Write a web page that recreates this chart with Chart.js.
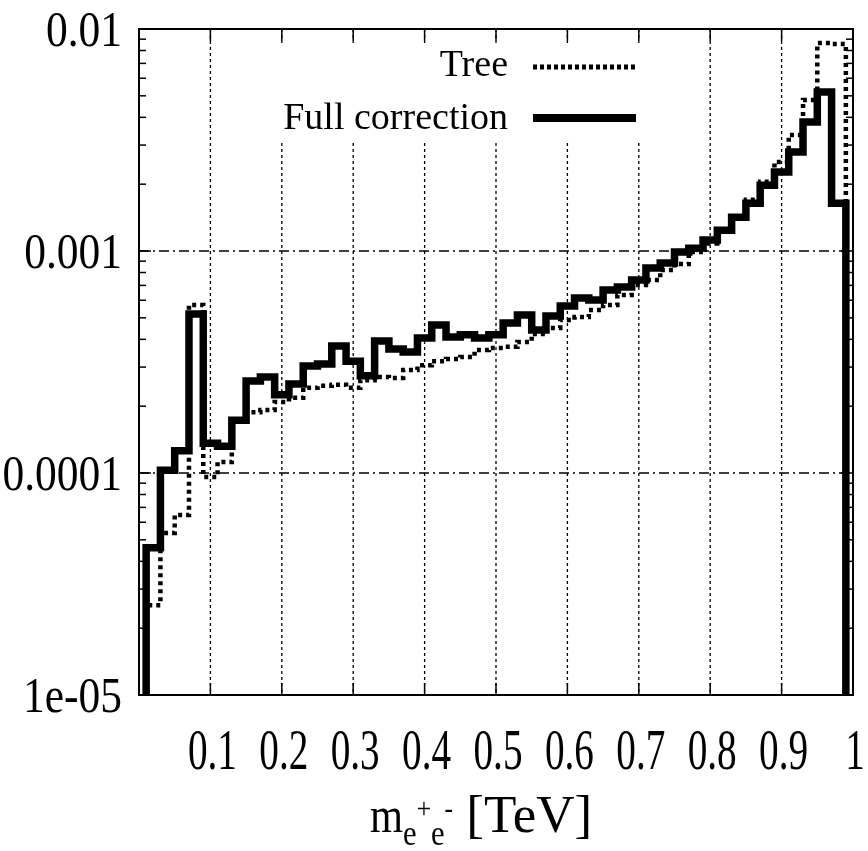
<!DOCTYPE html>
<html>
<head>
    <title>Invariant mass distribution</title>
    <script src="https://cdn.jsdelivr.net/npm/chart.js"></script>
    <style>
        body {
            margin: 0;
            background: white;
        }
        .chart-box {
            width: 868px;
            height: 851px;
        }
    </style>
</head>
<body>
<div class="chart-box">
    <canvas id="massChart" width="868" height="851"></canvas>
</div>
<script>
    // left edge of each histogram step (TeV)
    const binEdges = [0.01, 0.03, 0.05, 0.07, 0.09, 0.11, 0.13, 0.15, 0.17, 0.19,
        0.21, 0.23, 0.25, 0.27, 0.29, 0.31, 0.33, 0.35, 0.37, 0.39,
        0.41, 0.43, 0.45, 0.47, 0.49, 0.51, 0.53, 0.55, 0.57, 0.59,
        0.61, 0.63, 0.65, 0.67, 0.69, 0.71, 0.73, 0.75, 0.77, 0.79,
        0.81, 0.83, 0.85, 0.87, 0.89, 0.91, 0.93, 0.95, 0.97, 0.99];

    const treeValues = [2.54e-5, 5.37e-5, 6.47e-5, 5.71e-4, 9.6e-5, 1.12e-4, 1.7e-4, 1.88e-4, 1.92e-4, 2.09e-4,
        2.18e-4, 2.42e-4, 2.47e-4, 2.5e-4, 2.42e-4, 2.62e-4, 2.71e-4, 2.68e-4, 2.91e-4, 3.06e-4,
        3.19e-4, 3.26e-4, 3.33e-4, 3.58e-4, 3.66e-4, 3.7e-4, 3.89e-4, 4.23e-4, 4.5e-4, 4.89e-4,
        5.04e-4, 5.42e-4, 5.71e-4, 6.34e-4, 7.03e-4, 7.4e-4, 8.21e-4, 8.73e-4, 9.89e-4, 1.08e-3,
        1.22e-3, 1.42e-3, 1.7e-3, 2.05e-3, 2.52e-3, 3.33e-3, 4.79e-3, 8.65e-3, 8.55e-3];

    const fullValues = [4.6e-5, 1.03e-4, 1.26e-4, 5.2e-4, 1.36e-4, 1.32e-4, 1.73e-4, 2.6e-4, 2.71e-4, 2.25e-4,
        2.52e-4, 3.03e-4, 3.1e-4, 3.73e-4, 3.19e-4, 2.74e-4, 3.93e-4, 3.62e-4, 3.51e-4, 4.06e-4,
        4.64e-4, 4.1e-4, 4.19e-4, 4.06e-4, 4.19e-4, 4.74e-4, 5.15e-4, 4.41e-4, 5.1e-4, 5.65e-4,
        6.14e-4, 6.02e-4, 6.67e-4, 6.89e-4, 7.4e-4, 8.38e-4, 8.83e-4, 9.89e-4, 1.03e-3, 1.12e-3,
        1.24e-3, 1.42e-3, 1.64e-3, 1.98e-3, 2.27e-3, 2.79e-3, 3.81e-3, 5.2e-3, 1.64e-3];

    // empty bins, below the plotted range
    const belowRange = 1e-7;

    const xTicks = [0.1, 0.2, 0.3, 0.4, 0.5, 0.6, 0.7, 0.8, 0.9, 1];
    const xTickLabels = ['0.1', '0.2', '0.3', '0.4', '0.5', '0.6', '0.7', '0.8', '0.9', '1'];
    const yTicks = [1e-5, 1e-4, 1e-3, 1e-2];
    const yTickLabels = ['1e-05', '0.0001', '0.001', '0.01'];
    const seriesLabels = ['Tree', 'Full correction'];

    const FONT = '"Liberation Serif", "Times New Roman", serif';

    function stepPoints(values) {
        const pts = [{x: binEdges[0], y: belowRange}];
        values.forEach((v, i) => pts.push({x: binEdges[i], y: v}));
        pts.push({x: binEdges[binEdges.length - 1], y: belowRange});
        return pts;
    }

    function drawText(ctx, text, x, y, size, sx, align) {
        ctx.save();
        ctx.font = size + 'px ' + FONT;
        ctx.textAlign = align;
        ctx.textBaseline = 'alphabetic';
        ctx.fillStyle = '#000';
        ctx.translate(x, y);
        ctx.scale(sx, 1);
        ctx.fillText(text, 0, 0);
        ctx.restore();
    }

    function line(ctx, x1, y1, x2, y2) {
        ctx.beginPath();
        ctx.moveTo(x1, y1);
        ctx.lineTo(x2, y2);
        ctx.stroke();
    }

    // gnuplot-like frame: grid, key box, inward ticks, labels
    const framePlugin = {
        id: 'frame',
        beforeDatasetsDraw(chart) {
            const {ctx, chartArea: a, scales: {x, y}} = chart;
            ctx.save();
            ctx.strokeStyle = '#000';
            ctx.lineWidth = 1.3;
            ctx.setLineDash([3, 3]);
            xTicks.slice(0, -1).forEach(t => {
                const px = x.getPixelForValue(t);
                line(ctx, px, a.top, px, a.bottom);
            });
            ctx.setLineDash([10, 4, 2, 4]);
            yTicks.slice(1, -1).forEach(t => {
                const py = y.getPixelForValue(t);
                line(ctx, a.left, py, a.right, py);
            });
            // opaque key box
            ctx.fillStyle = '#fff';
            ctx.fillRect(268, a.top + 14, 394, 100);
            ctx.restore();
        },
        afterDatasetsDraw(chart) {
            const {ctx, chartArea: a, scales: {x, y}} = chart;
            ctx.save();
            ctx.strokeStyle = '#000';
            ctx.setLineDash([]);
            ctx.lineWidth = 2;
            ctx.strokeRect(a.left, a.top, a.right - a.left, a.bottom - a.top);

            ctx.lineWidth = 1.5;
            xTicks.slice(0, -1).forEach(t => {
                const px = x.getPixelForValue(t);
                line(ctx, px, a.bottom, px, a.bottom - 12);
                line(ctx, px, a.top, px, a.top + 12);
            });
            yTicks.forEach((t, i) => {
                const py = y.getPixelForValue(t);
                line(ctx, a.left, py, a.left + 12, py);
                line(ctx, a.right, py, a.right - 12, py);
                if (i < yTicks.length - 1) {
                    for (let m = 2; m <= 9; m++) {
                        const pm = y.getPixelForValue(t * m);
                        line(ctx, a.left, pm, a.left + 7, pm);
                        line(ctx, a.right, pm, a.right - 7, pm);
                    }
                }
            });

            yTicks.forEach((t, i) => {
                drawText(ctx, yTickLabels[i], 122, y.getPixelForValue(t) + 17, 50, 0.87, 'right');
            });
            xTicks.forEach((t, i) => {
                drawText(ctx, xTickLabels[i], x.getPixelForValue(t) + 2, 769, 56, 0.7, 'center');
            });

            // axis title m_{e+e-} [TeV]
            let cx = 370;
            const base = 832;
            const pieces = [
                ['m', 50, 0, 0.85], ['e', 36, 13, 0.85], ['+', 30, -14, 0.85],
                ['e', 36, 13, 0.85], ['-', 30, -14, 0.85], [' [TeV]', 53, 0, 1.0]
            ];
            pieces.forEach(([txt, size, dy, sx]) => {
                ctx.font = size + 'px ' + FONT;
                drawText(ctx, txt, cx, base + dy, size, sx, 'left');
                cx += ctx.measureText(txt).width * sx;
            });

            // key
            drawText(ctx, seriesLabels[0], 508, 76, 38, 1, 'right');
            drawText(ctx, seriesLabels[1], 508, 129, 38, 1, 'right');
            ctx.lineWidth = 5;
            ctx.setLineDash([4, 3]);
            line(ctx, 533, 67, 636, 67);
            ctx.setLineDash([]);
            ctx.lineWidth = 8;
            line(ctx, 533, 118, 636, 118);
            ctx.restore();
        }
    };

    const ctx = document.getElementById('massChart').getContext('2d');
    new Chart(ctx, {
        type: 'line',
        data: {
            datasets: [{
                label: seriesLabels[1],
                data: stepPoints(fullValues),
                borderColor: '#000',
                borderWidth: 7.5,
                stepped: 'before',
                pointRadius: 0,
                fill: false,
                clip: 0,
                order: 0
            }, {
                label: seriesLabels[0],
                data: stepPoints(treeValues),
                borderColor: '#000',
                borderWidth: 4.5,
                borderDash: [4, 4],
                stepped: 'before',
                pointRadius: 0,
                fill: false,
                clip: 0,
                order: 1
            }]
        },
        options: {
            responsive: false,
            animation: false,
            layout: {
                padding: {top: 29, right: 15, bottom: 0, left: 0}
            },
            plugins: {
                legend: {display: false},
                tooltip: {enabled: false}
            },
            scales: {
                x: {
                    type: 'linear',
                    min: 0,
                    max: 1,
                    grid: {display: false},
                    border: {display: false},
                    ticks: {display: false},
                    afterFit: s => { s.height = 156; }
                },
                y: {
                    type: 'logarithmic',
                    min: 1e-5,
                    max: 1e-2,
                    grid: {display: false},
                    border: {display: false},
                    ticks: {display: false},
                    afterFit: s => { s.width = 139; }
                }
            }
        },
        plugins: [framePlugin]
    });
</script>
</body>
</html>
